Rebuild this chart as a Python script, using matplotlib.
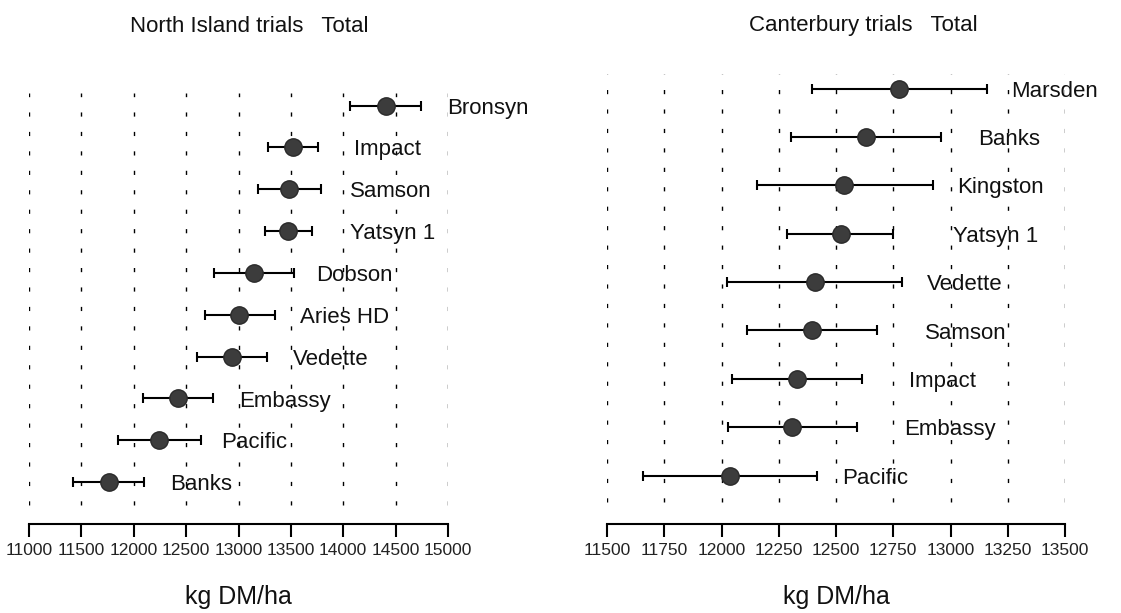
import numpy as np
import matplotlib
matplotlib.use('Agg')
import matplotlib.pyplot as plt

plt.rcParams['font.family'] = ['Liberation Sans', 'DejaVu Sans']
plt.rcParams['lines.scale_dashes'] = False

# North Island trials (top to bottom)
ni_names = ['Bronsyn', 'Impact', 'Samson', 'Yatsyn 1', 'Dobson', 'Aries HD',
            'Vedette', 'Embassy', 'Pacific', 'Banks']
ni_mean = [14405, 13517, 13482, 13476, 13152, 13005, 12937, 12421, 12245, 11764]
ni_low = [14066, 13278, 13189, 13251, 12766, 12678, 12603, 12084, 11846, 11423]
ni_high = [14742, 13755, 13783, 13701, 13527, 13346, 13271, 12753, 12638, 12101]
ni_ticks = [11000, 11500, 12000, 12500, 13000, 13500, 14000, 14500, 15000]

# Canterbury trials (top to bottom)
cb_names = ['Marsden', 'Banks', 'Kingston', 'Yatsyn 1', 'Vedette', 'Samson',
            'Impact', 'Embassy', 'Pacific']
cb_mean = [12776, 12630, 12537, 12520, 12407, 12397, 12329, 12309, 12038]
cb_low = [12397, 12302, 12153, 12287, 12024, 12110, 12044, 12027, 11658]
cb_high = [13158, 12959, 12923, 12751, 12789, 12680, 12615, 12593, 12419]
cb_ticks = [11500, 11750, 12000, 12250, 12500, 12750, 13000, 13250, 13500]

W, H = 1121, 613
fig = plt.figure(figsize=(W / 100, H / 100), dpi=100)


def panel(rect, names, mean, low, high, ticks, gap, title, title_x):
    ax = fig.add_axes(rect)
    n = len(names)
    y = np.arange(n, 0, -1)
    mean = np.array(mean)
    err = [mean - np.array(low), np.array(high) - mean]

    ax.vlines(ticks, 0.45, n + 0.3, colors='black', linewidth=1.0,
              linestyles=[(0, (3, 11))], zorder=1)
    ax.errorbar(mean, y, xerr=err, fmt='none', ecolor='black', elinewidth=1.5,
                capsize=3.5, capthick=1.5, zorder=2)
    ax.plot(mean, y, 'o', ms=12.5, mfc='#3c3c3c', mec='#2a2a2a', mew=1, zorder=3)
    for xv, yv, name in zip(mean, y, names):
        ax.annotate(name, (xv + gap, yv), xytext=(0, -5.8), textcoords='offset points',
                    ha='left', va='baseline', fontsize=16, color='#111111')

    ax.set_xlim(ticks[0], ticks[-1])
    ax.set_ylim(0, n + 0.3)
    ax.set_xticks(ticks)
    ax.set_xticklabels([str(t) for t in ticks])
    ax.set_yticks([])
    for s in ['top', 'right', 'left']:
        ax.spines[s].set_visible(False)
    ax.spines['bottom'].set_linewidth(1.5)
    ax.tick_params(axis='x', direction='out', length=9, width=1.5, pad=5,
                   labelsize=12.5, colors='black', labelcolor='#222222')
    ax.set_xlabel('kg DM/ha', fontsize=18, labelpad=19, color='#111111')
    ax.patch.set_alpha(0)
    fig.text(title_x / W, 1 - 26 / H, title, ha='center', va='center',
             fontsize=16, color='#111111')
    return ax


panel([29 / W, (H - 524) / H, 419 / W, 431 / H], ni_names, ni_mean, ni_low, ni_high,
      ni_ticks, 585, 'North Island trials   Total', 249)
panel([607 / W, (H - 524) / H, 458 / W, 450 / H], cb_names, cb_mean, cb_low, cb_high,
      cb_ticks, 490, 'Canterbury trials   Total', 863)

fig.savefig('out.png', dpi=100, facecolor='white')
